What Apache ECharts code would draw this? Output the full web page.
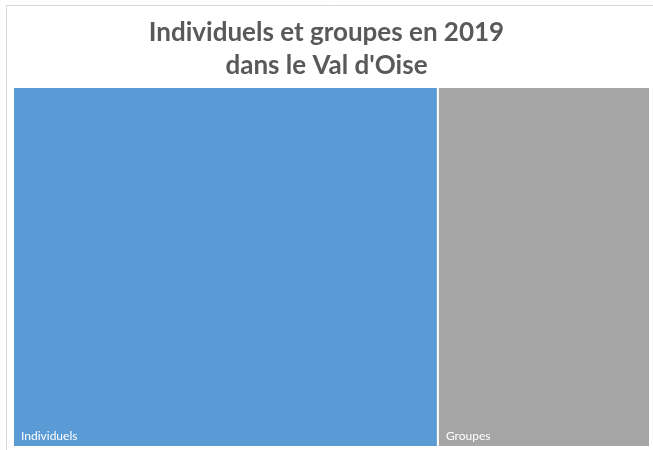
<!DOCTYPE html>
<html>
<head>
<meta charset="utf-8">
<script src="https://cdn.jsdelivr.net/npm/echarts@6/dist/echarts.min.js"></script>
<style>
  html, body { margin: 0; padding: 0; background: #fff; }
  #chart { width: 653px; height: 450px; }
</style>
</head>
<body>
<div id="chart"></div>
<script>
var categories = ['Individuels', 'Groupes'];
var values = [66.7, 33.3];
var colors = ['#5B9BD5', '#A5A5A5'];

var chart = echarts.init(document.getElementById('chart'));

var treeData = categories.map(function (name, i) {
  return { name: name, value: values[i], itemStyle: { color: colors[i] } };
});

var option = {
  animation: false,
  graphic: [{
    type: 'rect',
    shape: { x: 6.5, y: 5.5, width: 660, height: 450 },
    style: { fill: 'none', stroke: '#D9D9D9', lineWidth: 1 },
    silent: true
  }],
  title: {
    text: 'Individuels et groupes en 2019\ndans le Val d\'Oise',
    left: 'center',
    top: 11,
    textStyle: {
      fontFamily: 'Lato',
      fontWeight: 'bold',
      fontSize: 26,
      color: '#595959',
      lineHeight: 33
    }
  },
  series: [{
    type: 'treemap',
    left: 14,
    top: 88,
    width: 635,
    height: 358,
    roam: false,
    nodeClick: false,
    breadcrumb: { show: false },
    sort: false,
    squareRatio: 1,
    itemStyle: { gapWidth: 2, borderWidth: 0, borderColor: '#fff' },
    levels: [{ itemStyle: { gapWidth: 2, borderWidth: 0 } }],
    label: {
      show: true,
      position: 'insideBottomLeft',
      color: '#fff',
      fontSize: 12,
      fontFamily: 'Lato',
      padding: [0, 0, 0, 3],
      distance: 4
    },
    data: treeData
  }]
};

chart.setOption(option);
</script>
</body>
</html>
